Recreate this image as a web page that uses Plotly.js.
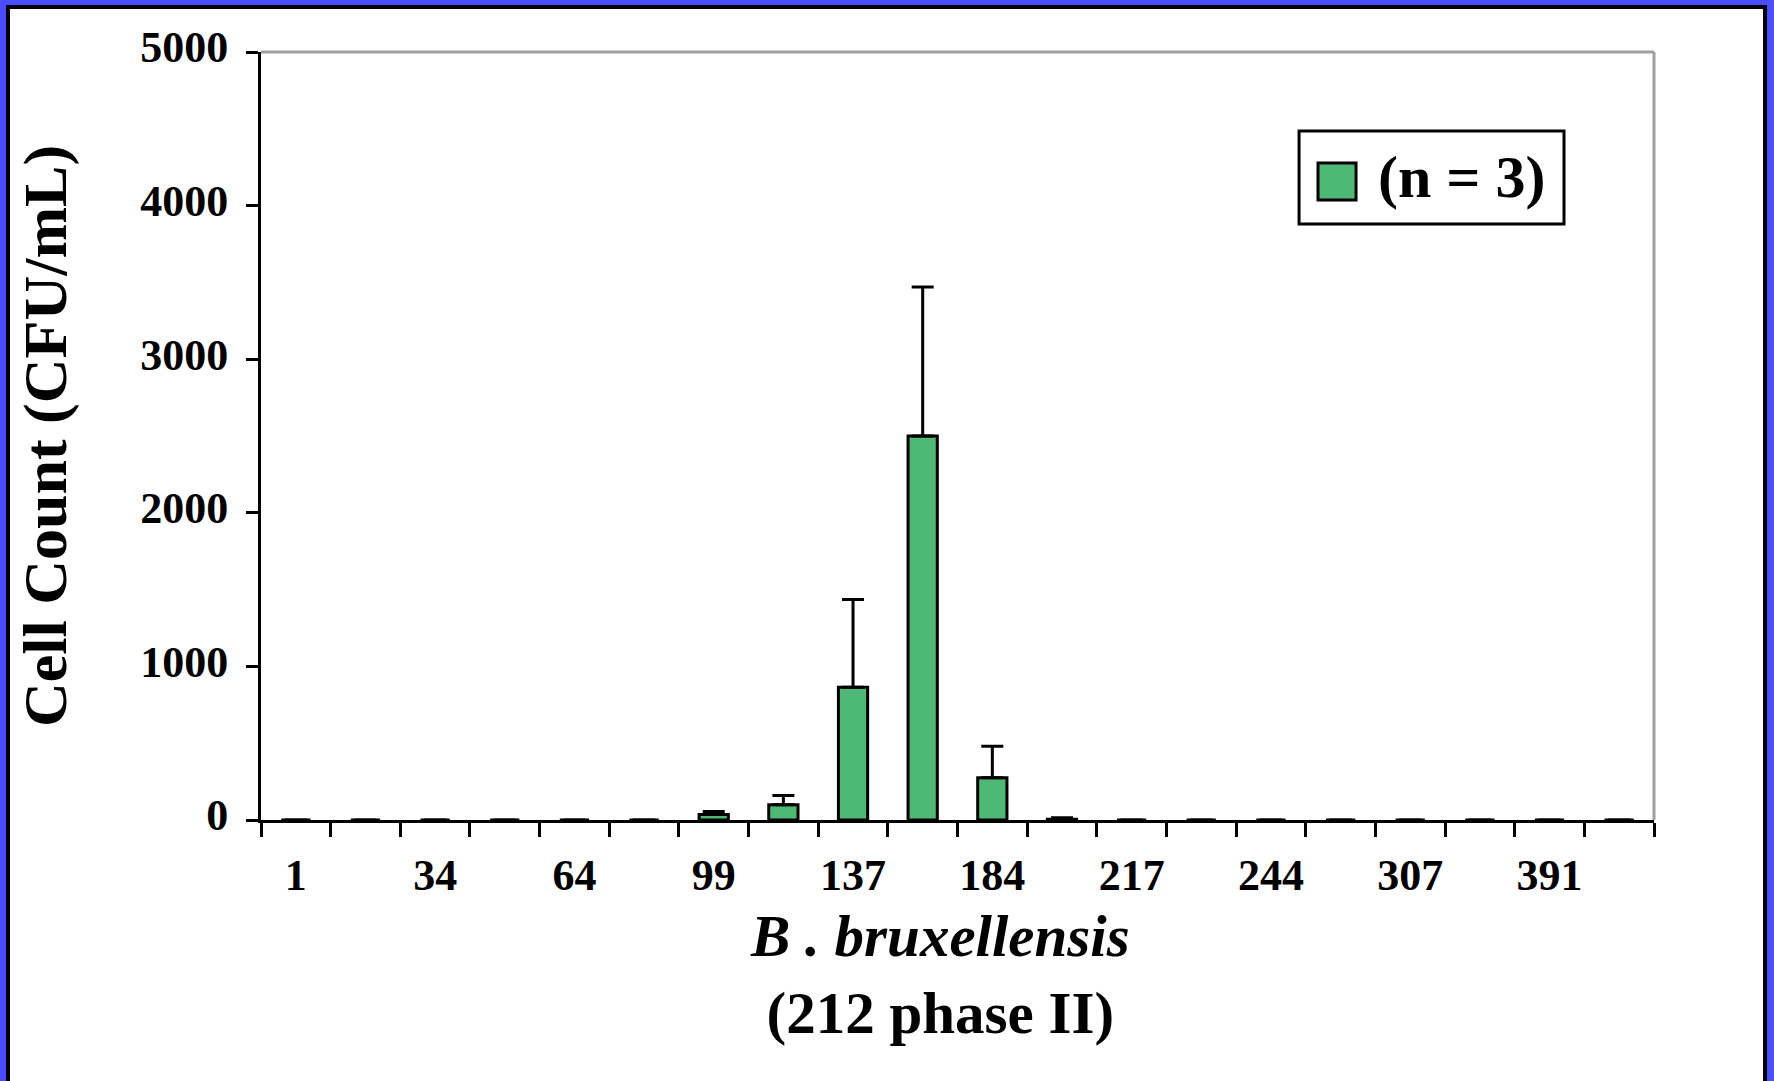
<!DOCTYPE html>
<html>
<head>
<meta charset="utf-8">
<script src="https://cdn.plot.ly/plotly-3.0.1.min.js"></script>
<style>
  html, body { margin: 0; padding: 0; width: 1774px; height: 1081px; overflow: hidden; background: #4b4bff; }
  #frame { position: absolute; left: 6px; top: 5px; width: 1761px; height: 1120px; box-sizing: border-box;
           border: 4px solid #000; background: #fff; }
  #chart { position: absolute; left: 0; top: 0; width: 1774px; height: 1081px; }
</style>
</head>
<body>
<div id="frame"></div>
<div id="chart"></div>
<script>
// Sample positions along the x axis (one per isolate)
const sampleIdx = [1, 2, 3, 4, 5, 6, 7, 8, 9, 10, 11, 12, 13, 14, 15, 16, 17, 18, 19, 20];
// Mean cell counts (CFU/mL), n = 3
const cellCounts = [0, 0, 0, 0, 0, 0, 35, 100, 865, 2500, 275, 5, 0, 0, 0, 0, 0, 0, 0, 0];
// Upper standard deviation
const stdDev = [0, 0, 0, 0, 0, 0, 20, 60, 570, 970, 205, 10, 0, 0, 0, 0, 0, 0, 0, 0];
const noLower = sampleIdx.map(() => 0);

// Labelled samples on the x axis
const tickPositions = [1, 3, 5, 7, 9, 11, 13, 15, 17, 19];
const tickLabels = ['1', '34', '64', '99', '137', '184', '217', '244', '307', '391'];
const yTicks = [0, 1000, 2000, 3000, 4000, 5000];

const FONT = 'Liberation Serif, Times New Roman, serif';
const GREEN = '#4eb974';

const trace = {
  type: 'bar',
  x: sampleIdx,
  y: cellCounts,
  width: 0.42,
  marker: { color: GREEN, line: { color: '#000', width: 3 } },
  error_y: { type: 'data', symmetric: false, array: stdDev, arrayminus: noLower,
             color: '#000', thickness: 3, width: 11 },
  showlegend: false,
  hoverinfo: 'x+y'
};

// Legend box built from shapes + text (paper coordinates)
const legendBox = { x0: 0.7452, x1: 0.9354, y0: 0.776, y1: 0.897 };
const legendSwatch = { x0: 0.7588, x1: 0.7861, y0: 0.8073, y1: 0.8555 };

const layout = {
  width: 1774,
  height: 1081,
  margin: { l: 261, r: 120, t: 52, b: 261 },
  paper_bgcolor: 'rgba(0,0,0,0)',
  plot_bgcolor: 'rgba(0,0,0,0)',
  font: { family: FONT, color: '#000' },
  bargap: 0,
  xaxis: {
    type: 'linear',
    range: [0.5, 20.5],
    tickmode: 'array',
    tickvals: tickPositions,
    ticktext: tickLabels,
    ticks: '',
    ticklabelstandoff: 14,
    tickfont: { family: FONT, size: 44, color: '#000', weight: 'bold' },
    showline: true, linecolor: '#000', linewidth: 3,
    showgrid: false, zeroline: false,
    minor: { tickmode: 'linear', tick0: 0.5, dtick: 1, ticks: 'outside', ticklen: 14,
             tickwidth: 3, tickcolor: '#000', showgrid: false }
  },
  yaxis: {
    range: [0, 5000],
    tickmode: 'array',
    tickvals: yTicks,
    ticktext: yTicks.map(String),
    ticks: 'outside', ticklen: 12, tickwidth: 3, tickcolor: '#000',
    ticklabelstandoff: 9,
    ticklabelshift: -5,
    tickfont: { family: FONT, size: 44, color: '#000', weight: 'bold' },
    showline: true, linecolor: '#000', linewidth: 3,
    showgrid: false, zeroline: false,
    title: {
      text: 'Cell Count (CFU/mL)',
      font: { family: FONT, size: 62, color: '#000', weight: 'bold' },
      standoff: 54
    }
  },
  shapes: [
    // top and right plot borders
    { type: 'line', xref: 'paper', yref: 'paper', x0: 0, x1: 1, y0: 1, y1: 1, line: { color: '#a0a0a0', width: 3 }, layer: 'below' },
    { type: 'line', xref: 'paper', yref: 'paper', x0: 1, x1: 1, y0: 0, y1: 1, line: { color: '#a0a0a0', width: 3 }, layer: 'below' },
    // legend frame and swatch
    { type: 'rect', xref: 'paper', yref: 'paper', x0: legendBox.x0, x1: legendBox.x1, y0: legendBox.y0, y1: legendBox.y1,
      line: { color: '#000', width: 3 }, fillcolor: '#fff' },
    { type: 'rect', xref: 'paper', yref: 'paper', x0: legendSwatch.x0, x1: legendSwatch.x1, y0: legendSwatch.y0, y1: legendSwatch.y1,
      line: { color: '#000', width: 3 }, fillcolor: GREEN }
  ],
  annotations: [
    // legend label
    { xref: 'paper', yref: 'paper', x: 0.8004, y: 0.8372, xanchor: 'left', yanchor: 'middle',
      text: '(n = 3)', showarrow: false,
      font: { family: FONT, size: 60, color: '#000', weight: 'bold' } },
    // x axis title (species / trial)
    { xref: 'paper', yref: 'paper', x: 0.4873, y: -0.2012, xanchor: 'center', yanchor: 'middle',
      text: '<i>B . bruxellensis</i><br>(212 phase II)', showarrow: false, align: 'center',
      font: { family: FONT, size: 59, color: '#000', weight: 'bold' } }
  ]
};

Plotly.newPlot('chart', [trace], layout, { displayModeBar: false, staticPlot: true });
</script>
</body>
</html>
